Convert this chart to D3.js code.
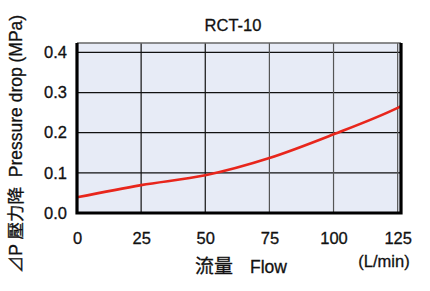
<!DOCTYPE html>
<html>
<head>
<meta charset="utf-8">
<script src="https://cdn.jsdelivr.net/npm/d3@7"></script>
<style>
  body { margin:0; background:#fff; }
  text { font-family: "Liberation Sans", Arial, "Noto Sans CJK TC", sans-serif; fill:#111; stroke:#111; stroke-width:0.3px; }
</style>
</head>
<body>
<div class="canvas"></div>
<script>
// data
const flow = [0, 25, 50, 75, 100, 125, 126.3];
const pressure = [0.039, 0.0695, 0.094, 0.137, 0.196, 0.262, 0.266];
const xTicks = [0, 25, 50, 75, 100, 125];
const yTicks = [0.0, 0.1, 0.2, 0.3, 0.4];

const margin = { top:43, right:29, bottom:78, left:77 };
const width = 430, height = 291;
const graphWidth = width - margin.left - margin.right;
const graphHeight = height - margin.top - margin.bottom;

const svg = d3.select('.canvas')
  .append('svg')
  .attr('width', width)
  .attr('height', height);

const graph = svg.append('g')
  .attr('transform', `translate(${margin.left}, ${margin.top})`);

// scales
const x = d3.scaleLinear().domain([0, 126.3]).range([0, graphWidth]);
const y = d3.scaleLinear().domain([0, 0.4235]).range([graphHeight, 0]);

// plot background
graph.append('rect')
  .attr('width', graphWidth)
  .attr('height', graphHeight)
  .attr('fill', '#e7ebf6');

// grid lines
graph.append('g')
  .selectAll('line')
  .data(yTicks)
  .enter().append('line')
  .attr('x1', 0).attr('x2', graphWidth)
  .attr('y1', d => y(d)).attr('y2', d => y(d))
  .attr('stroke', '#111').attr('stroke-width', 1.2);

graph.append('g')
  .selectAll('line')
  .data(xTicks)
  .enter().append('line')
  .attr('x1', d => x(d)).attr('x2', d => x(d))
  .attr('y1', 0).attr('y2', graphHeight)
  .attr('stroke', d => d >= 75 ? '#555' : '#111')
  .attr('stroke-width', 1.2);

// curve
const line = d3.line()
  .x((d, i) => x(flow[i]))
  .y(d => y(d))
  .curve(d3.curveMonotoneX);

graph.append('path')
  .datum(pressure)
  .attr('fill', 'none')
  .attr('stroke', '#e8261c')
  .attr('stroke-width', 2.6)
  .attr('d', line);

// frame: thin gray top, thick black left/right/bottom
graph.append('line')
  .attr('x1', 0).attr('x2', graphWidth).attr('y1', 0).attr('y2', 0)
  .attr('stroke', '#666').attr('stroke-width', 1.5);
graph.append('path')
  .attr('d', `M0,0 V${graphHeight} H${graphWidth} V0`)
  .attr('fill', 'none')
  .attr('stroke', '#000')
  .attr('stroke-width', 3.2);

// axes via d3 axis generators, domain and ticks hidden
const xAxis = d3.axisBottom(x).tickValues(xTicks).tickSize(0).tickPadding(19).tickFormat(d3.format('d'));
const yAxis = d3.axisLeft(y).tickValues(yTicks).tickSize(0).tickPadding(10).tickFormat(d3.format('.1f'));

const xAxisGroup = graph.append('g').attr('transform', `translate(0, ${graphHeight})`).call(xAxis);
const yAxisGroup = graph.append('g').call(yAxis);
[xAxisGroup, yAxisGroup].forEach(g => {
  g.select('.domain').remove();
  g.selectAll('text')
    .attr('font-family', '"Liberation Sans", Arial, sans-serif')
    .attr('font-size', 16.5)
    .attr('fill', '#111');
});

// title
svg.append('text')
  .attr('x', 233).attr('y', 31)
  .attr('text-anchor', 'middle')
  .attr('font-size', 16.5)
  .text('RCT-10');

// x label
svg.append('text')
  .attr('x', 195).attr('y', 273)
  .attr('font-size', 19)
  .text('流量');
svg.append('text')
  .attr('x', 250).attr('y', 273)
  .attr('font-size', 17.5)
  .text('Flow');

svg.append('text')
  .attr('x', 384).attr('y', 267)
  .attr('text-anchor', 'middle')
  .attr('font-size', 16.5)
  .text('(L/min)');

// y label
svg.append('text')
  .attr('transform', 'translate(22, 144) rotate(-90)')
  .attr('text-anchor', 'middle')
  .attr('font-size', 17.5)
  .style('white-space', 'pre')
  .text('⊿P 壓力降  Pressure drop (MPa)');
</script>
</body>
</html>
